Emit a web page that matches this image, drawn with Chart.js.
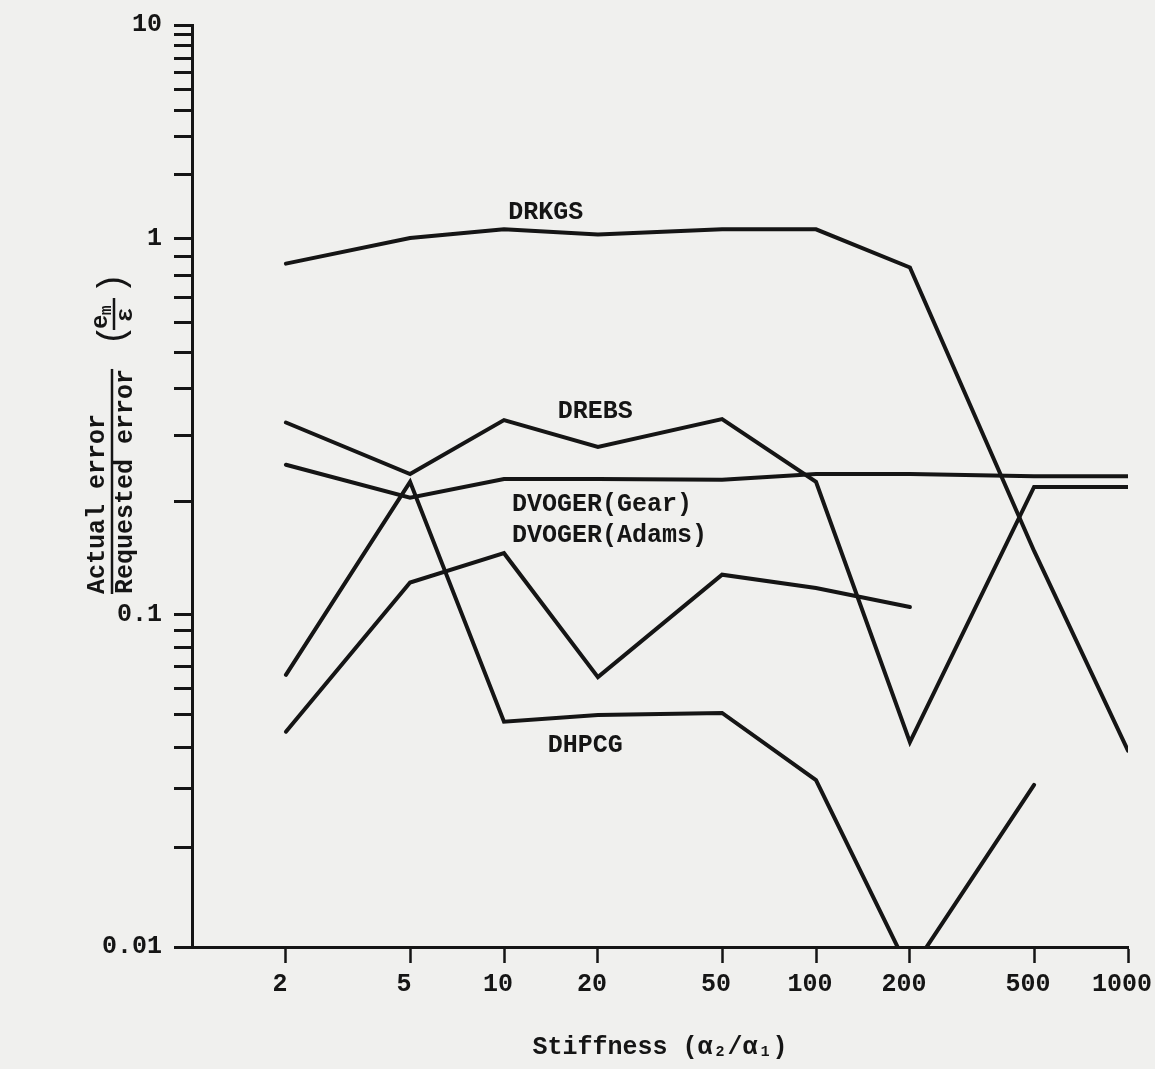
<!DOCTYPE html>
<html>
<head>
<meta charset="utf-8">
<script src="https://cdn.jsdelivr.net/npm/chart.js@4.4.1/dist/chart.umd.min.js"></script>
<style>
  html, body { margin: 0; padding: 0; background: #f0f0ee; }
  #wrap { width: 1155px; height: 1069px; position: relative; }
</style>
</head>
<body>
<div id="wrap"><canvas id="chart"></canvas></div>
<script>
// Stiffness ratios (x) and error ratios per integrator (y), null = not run
const stiffness = [2, 5, 10, 20, 50, 100, 200, 500, 1000];
const xTickLabels = ['2', '5', '10', '20', '50', '100', '200', '500', '1000'];

const drkgs = [0.86, 1.01, 1.11, 1.05, 1.11, 1.11, 0.84, 0.148, 0.039];
const drebs = [0.325, 0.237, 0.33, 0.28, 0.332, 0.226, 0.0414, 0.219, 0.219];
const dvogerGear = [0.251, 0.205, 0.23, 0.23, 0.229, 0.237, 0.237, 0.234, 0.234];
const dvogerAdams = [0.0445, 0.122, 0.146, 0.065, 0.128, 0.118, 0.105, null, null];
const dhpcg = [0.066, 0.226, 0.0477, 0.05, 0.0507, 0.0318, 0.0084, 0.0308, null];

const yDecades = [0.01, 0.1, 1, 10];
const yTickLabels = ['0.01', '0.1', '1', '10'];

// curve names, placed in data coordinates
const seriesLabels = [
  { text: 'DRKGS', x: 13.6, y: 1.32, align: 'center' },
  { text: 'DREBS', x: 19.6, y: 0.347, align: 'center' },
  { text: 'DVOGER(Gear)', x: 10.6, y: 0.196, align: 'left' },
  { text: 'DVOGER(Adams)', x: 10.6, y: 0.163, align: 'left' },
  { text: 'DHPCG', x: 18.2, y: 0.0405, align: 'center' }
];

const ink = '#151515';
const mono = "'Liberation Mono', 'DejaVu Sans Mono', monospace";
const textFont = { family: mono, size: 25, weight: 'bold' };

// The printed log paper has uneven decades; each decade gets its own share of the axis.
const yAnchors = [
  { value: 0.01, at: 0 },
  { value: 0.1, at: 0.3601 },
  { value: 1, at: 0.7679 },
  { value: 10, at: 1 }
];

class DecadeLogScale extends Chart.LogarithmicScale {
  toFraction(value) {
    const lv = Math.log10(value);
    let i = 0;
    while (i < yAnchors.length - 2 && lv > Math.log10(yAnchors[i + 1].value)) i++;
    const a = yAnchors[i], b = yAnchors[i + 1];
    const la = Math.log10(a.value), lb = Math.log10(b.value);
    return a.at + (lv - la) / (lb - la) * (b.at - a.at);
  }
  getPixelForValue(value) {
    if (value === null || value === undefined || isNaN(value) || value <= 0) return NaN;
    return this.getPixelForDecimal(this.toFraction(value));
  }
  getValueForPixel(pixel) {
    const f = this.getDecimalForPixel(pixel);
    let i = 0;
    while (i < yAnchors.length - 2 && f > yAnchors[i + 1].at) i++;
    const a = yAnchors[i], b = yAnchors[i + 1];
    const la = Math.log10(a.value), lb = Math.log10(b.value);
    return Math.pow(10, la + (f - a.at) / (b.at - a.at) * (lb - la));
  }
}
DecadeLogScale.id = 'decadeLog';
DecadeLogScale.defaults = {};
Chart.register(DecadeLogScale);

function toPoints(values) {
  return stiffness
    .map((s, i) => ({ x: s, y: values[i] }))
    .filter(p => p.y !== null);
}

function lineSet(label, values) {
  return {
    label,
    data: toPoints(values),
    borderColor: ink,
    borderWidth: 4,
    pointRadius: 0,
    tension: 0,
    fill: false,
    borderJoinStyle: 'miter',
    borderCapStyle: 'round'
  };
}

// y tick marks: every 1..9 step inside each decade
const yTicks = [];
yDecades.forEach((d, i) => {
  yTicks.push(d);
  if (i < yDecades.length - 1) {
    for (let k = 2; k <= 9; k++) yTicks.push(d * k);
  }
});

const textPlugin = {
  id: 'plotText',
  afterDraw(chart) {
    const { ctx, scales: { x, y } } = chart;
    ctx.save();
    ctx.fillStyle = ink;
    ctx.strokeStyle = ink;
    ctx.textBaseline = 'middle';
    ctx.font = `bold 25px ${mono}`;

    seriesLabels.forEach(l => {
      ctx.textAlign = l.align;
      ctx.fillText(l.text, x.getPixelForValue(l.x), y.getPixelForValue(l.y));
    });

    // rotated y title: Actual error / Requested error
    ctx.save();
    ctx.translate(112, 594);
    ctx.rotate(-Math.PI / 2);
    ctx.textAlign = 'left';
    ctx.fillText('Actual error', 0, -14);
    ctx.fillText('Requested error', 0, 14);
    ctx.lineWidth = 2.5;
    ctx.beginPath();
    ctx.moveTo(0, 0);
    ctx.lineTo(ctx.measureText('Requested error').width, 0);
    ctx.stroke();
    ctx.restore();

    // (e_m / ε)
    ctx.save();
    ctx.translate(113, 346);
    ctx.rotate(-Math.PI / 2);
    ctx.textAlign = 'left';
    ctx.font = `36px ${mono}`;
    ctx.fillText('(', 0, 0);
    ctx.fillText(')', 52, 0);
    ctx.font = `bold 24px ${mono}`;
    ctx.fillText('e', 17, -12);
    ctx.font = `bold 16px ${mono}`;
    ctx.fillText('m', 31, -6);
    ctx.font = `bold 24px ${mono}`;
    ctx.fillText('\u03B5', 24, 13);
    ctx.lineWidth = 2.5;
    ctx.beginPath();
    ctx.moveTo(16, 1);
    ctx.lineTo(48, 1);
    ctx.stroke();
    ctx.restore();

    ctx.restore();
  }
};

new Chart(document.getElementById('chart'), {
  type: 'line',
  data: {
    datasets: [
      lineSet('DRKGS', drkgs),
      lineSet('DREBS', drebs),
      lineSet('DVOGER(Gear)', dvogerGear),
      lineSet('DVOGER(Adams)', dvogerAdams),
      lineSet('DHPCG', dhpcg)
    ]
  },
  options: {
    responsive: true,
    maintainAspectRatio: false,
    animation: false,
    devicePixelRatio: 1,
    layout: { padding: { top: 25, right: 27, left: 0, bottom: 0 } },
    plugins: {
      legend: { display: false },
      tooltip: { enabled: false }
    },
    scales: {
      x: {
        type: 'logarithmic',
        min: 1,
        max: 1000,
        afterBuildTicks: s => { s.ticks = stiffness.map(v => ({ value: v })); },
        afterFit: s => { s.height = 122; s.paddingLeft = 0; s.paddingRight = 0; },
        border: { display: true, color: ink, width: 3 },
        grid: { drawOnChartArea: false, drawTicks: true, tickLength: 16, tickWidth: 2.5, tickColor: ink },
        ticks: {
          autoSkip: false,
          maxRotation: 0,
          padding: 7,
          labelOffset: -6,
          color: ink,
          font: textFont,
          callback: (v, i) => xTickLabels[i]
        },
        title: {
          display: true,
          text: 'Stiffness (\u03B1\u2082/\u03B1\u2081)',
          color: ink,
          font: textFont,
          padding: { top: 0, bottom: 6 }
        }
      },
      y: {
        type: 'decadeLog',
        min: 0.01,
        max: 10,
        afterBuildTicks: s => { s.ticks = yTicks.map(v => ({ value: v })); },
        afterFit: s => { s.width = 192; s.paddingTop = 0; s.paddingBottom = 0; },
        border: { display: true, color: ink, width: 3 },
        grid: { drawOnChartArea: false, drawTicks: true, tickLength: 18, tickWidth: 3, tickColor: ink },
        ticks: {
          autoSkip: false,
          padding: 12,
          color: ink,
          font: textFont,
          callback: v => {
            const i = yDecades.findIndex(d => Math.abs(d - v) / d < 1e-6);
            return i >= 0 ? yTickLabels[i] : '';
          }
        }
      }
    }
  },
  plugins: [textPlugin]
});
</script>
</body>
</html>
